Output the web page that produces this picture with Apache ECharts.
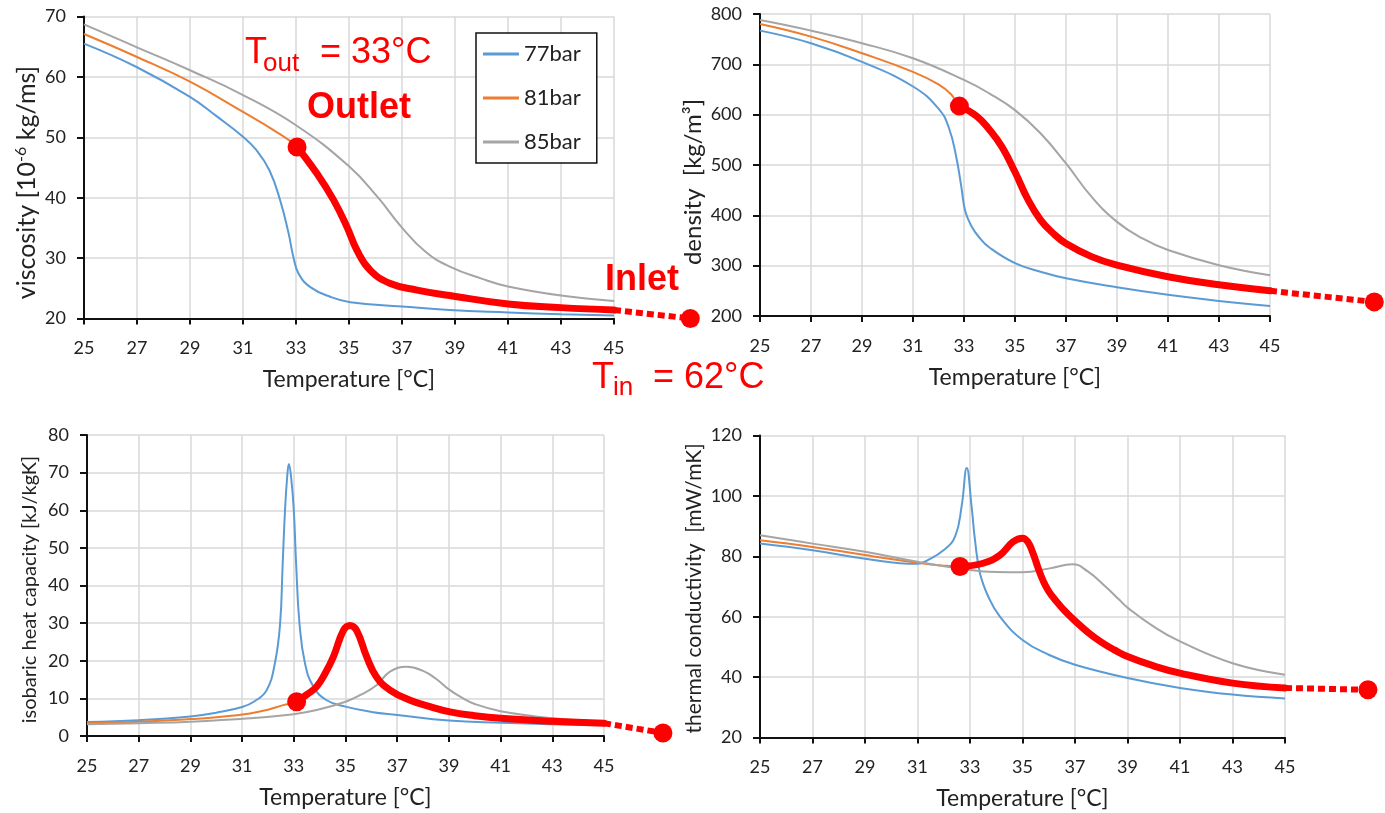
<!DOCTYPE html>
<html>
<head>
<meta charset="utf-8">
<script src="https://cdn.jsdelivr.net/npm/echarts@6/dist/echarts.min.js"></script>
<style>
  html, body { margin: 0; padding: 0; background: #ffffff; }
  #chart { width: 1385px; height: 813px; }
</style>
</head>
<body>
<div id="chart"></div>
<script>
// ---- tick labels ----
const tempTicks = [25, 27, 29, 31, 33, 35, 37, 39, 41, 43, 45];
const pressureNames = ['77bar', '81bar', '85bar'];

// ---- viscosity [1e-6 kg/ms] vs temperature [°C] ----
const visc77 = [[25,65.5],[27,61.6],[29,56.7],[30,53.5],[31,50.1],[31.5,47.9],[32,44.5],[32.4,39.6],[32.72,34.1],[32.9,30.2],[33.1,27.4],[33.54,25.2],[34.29,23.6],[35.05,22.7],[37,22.0],[38.8,21.4],[41,21.0],[43,20.7],[45,20.5]];
const visc81 = [[25,67.1],[27,63.3],[29,59.2],[31,54.2],[32.15,51.2],[33.04,48.4],[33.79,44.0],[34.42,39.6],[34.92,35.2],[35.3,31.3],[35.8,28.0],[36.56,25.8],[37.57,24.7],[38.8,23.8],[41,22.4],[43,21.8],[45,21.4]];
const visc85 = [[25,68.7],[27,64.9],[29,61.1],[31,57.0],[33,52.0],[35,45.2],[36.1,40.0],[36.95,35.3],[37.9,31.0],[38.8,28.6],[40,26.6],[41,25.3],[43,23.8],[45,22.9]];

// ---- density [kg/m3] ----
const dens77 = [[25,767],[27,742],[29,705],[31,656],[32,612],[32.4,575],[32.7,515],[32.9,455],[33.05,408],[33.3,378],[33.6,356],[34,336],[35,305],[36,288],[37,275],[39,257],[41,242],[43,230],[45,220]];
const dens81 = [[25,780],[27,755],[29,722],[31,685],[32,660],[32.5,640],[32.82,617],[33.5,597],[34,570],[34.5,535],[35,486],[35.5,432],[36,391],[36.5,364],[37,344],[38,318],[39,301],[41,278],[43,262],[45,250]];
const dens85 = [[25,788],[27,767],[29,742],[31,712],[33,669],[34,642],[35,609],[36,563],[37,503],[38,437],[39,387],[40,354],[41,331],[43,301],[45,281]];

// ---- isobaric heat capacity [kJ/kgK] ----
const cp77 = [[25,3.7],[27,4.2],[29,5.2],[30,6.2],[31,7.7],[31.5,9.3],[31.95,12.2],[32.27,19.4],[32.47,29.9],[32.57,45.8],[32.66,60.0],[32.74,68.5],[32.81,72.3],[32.9,68.5],[33.0,60.0],[33.09,45.8],[33.22,29.9],[33.43,19.4],[33.76,13.1],[34.27,9.5],[35,7.8],[36,6.4],[37,5.6],[39,4.1],[41,3.5],[43,3.1],[45,2.9]];
const cp81 = [[25,3.4],[27,3.8],[29,4.5],[30,5.0],[31.3,6.0],[32,7.0],[32.59,8.2],[33.11,9.1],[33.5,11.0],[33.88,13.1],[34.2,16.5],[34.53,21.0],[34.92,28.1],[35.17,29.4],[35.43,28.1],[35.82,21.0],[36.2,15.7],[36.72,12.2],[37.5,9.5],[38.27,7.8],[39.04,6.4],[40,5.4],[41,4.7],[43,3.9],[45,3.4]];
const cp85 = [[25,3.1],[27,3.4],[29,3.8],[31.3,4.7],[33,5.8],[33.88,6.9],[35,9.1],[35.6,11.0],[36.2,13.5],[36.72,17.1],[37.37,18.4],[38,17.3],[38.5,15.2],[39,12.4],[39.5,10.2],[40,8.5],[41,6.6],[43,4.7],[45,3.8]];

// ---- thermal conductivity [mW/mK] ----
const tc77 = [[25,84.2],[27,82.0],[29,79.2],[31,77.5],[31.36,78.6],[31.99,82.0],[32.43,86.5],[32.68,96.5],[32.875,109.2],[33.06,96.5],[33.19,85.4],[33.38,74.4],[33.7,66.6],[34.14,60.0],[35,52.3],[36,47.4],[37,44.1],[39,39.7],[41,36.4],[43,34.2],[45,32.9]];
const tc81 = [[25,85.3],[27,83.1],[29,80.4],[31,77.9],[32,76.9],[32.62,76.6],[33.5,77.7],[34.14,80.4],[34.64,84.8],[35.0,86.0],[35.2,84.8],[35.4,81.0],[35.6,76.0],[35.8,71.6],[36.0,68.4],[36.3,65.0],[36.6,62.0],[37,58.6],[37.5,54.8],[38,51.6],[38.5,49.0],[39,46.8],[40,43.7],[41,41.3],[43,38.0],[45,36.4]];
const tc85 = [[25,87.0],[27,84.2],[29,81.5],[31,78.2],[33,75.5],[34,74.8],[35,74.7],[36.04,76.0],[36.9,77.4],[37.5,74.9],[38.17,69.9],[38.7,65.5],[39,63.0],[40,56.7],[41,51.8],[43,44.6],[45,40.8]];

// operating path along the 81 bar curve: outlet temperature and inlet point
const outletTemp = [33.04, 32.82, 33.11, 32.62];
const inletPoint = [[47.88, 20], [49.09, 228], [47.28, 0.8], [48.16, 35.8]];

// axis ranges
const yMin = [20, 200, 0, 20];
const yMax = [70, 800, 80, 120];
const yStep = [10, 100, 10, 20];

const panels = [
  [visc77, visc81, visc85],
  [dens77, dens81, dens85],
  [cp77, cp81, cp85],
  [tc77, tc81, tc85]
];

const lineColors = ['#5B9BD5', '#ED7D31', '#A5A5A5'];
const pathRed = '#FF0000';
const labelFont = 'Lato, "Liberation Sans", sans-serif';
const noteFont = '"Liberation Sans", Arial, sans-serif';
const curveSmooth = 0.45;

const gridBoxes = [
  { left: 84,  top: 16.5,  width: 530, height: 302 },
  { left: 760, top: 14,    width: 510, height: 302 },
  { left: 87,  top: 435,   width: 517, height: 301 },
  { left: 760, top: 435.5, width: 525, height: 302 }
];

const yNames = [
  '{n|viscosity [10}{s|-6}{n| kg/ms]}',
  '{n|density  [kg/m³]}',
  '{n|isobaric heat capacity [kJ/kgK]}',
  '{n|thermal conductivity  [mW/mK]}'
];
const yNameSize = [25, 24, 20, 21];
const yNamePad = [[0, 30, 0, 0], [0, 34, 0, 0], [0, 8, 0, 0], [0, 4, 0, 0]];
const yNameGap = [44, 54, 46, 54];

const xAxes = [], yAxes = [], series = [];

panels.forEach(function (curves, i) {
  xAxes.push({
    gridIndex: i,
    type: 'value',
    min: 25,
    max: 45,
    name: 'Temperature [°C]',
    nameLocation: 'middle',
    nameGap: 50,
    nameTextStyle: { fontFamily: labelFont, fontSize: 23, color: '#222' },
    axisLine: { show: true, lineStyle: { color: '#111', width: 2 } },
    axisTick: { show: true, length: 6, customValues: tempTicks, lineStyle: { color: '#111', width: 2 } },
    axisLabel: { customValues: tempTicks, margin: 21, fontFamily: labelFont, fontSize: 18, color: '#222' },
    splitLine: { show: true, lineStyle: { color: '#D9D9D9', width: 1.5 } }
  });
  const fs = yNameSize[i];
  yAxes.push({
    gridIndex: i,
    type: 'value',
    min: yMin[i],
    max: yMax[i],
    interval: yStep[i],
    name: yNames[i],
    nameLocation: 'middle',
    nameRotate: 90,
    nameGap: yNameGap[i],
    nameTextStyle: {
      padding: yNamePad[i],
      rich: {
        n: { fontFamily: labelFont, fontSize: fs, color: '#222', lineHeight: fs + 2 },
        s: { fontFamily: labelFont, fontSize: Math.round(fs * 0.62), color: '#222', lineHeight: fs + 2, verticalAlign: 'top' }
      }
    },
    axisLine: { show: true, lineStyle: { color: '#111', width: 2 } },
    axisTick: { show: true, length: 7, lineStyle: { color: '#111', width: 2 } },
    axisLabel: { margin: 18, fontFamily: labelFont, fontSize: 18, color: '#222' },
    splitLine: { show: true, lineStyle: { color: '#D9D9D9', width: 1.5 } }
  });

  curves.forEach(function (pts, k) {
    series.push({
      name: pressureNames[k],
      type: 'line',
      xAxisIndex: i,
      yAxisIndex: i,
      data: pts,
      symbol: 'none',
      smooth: curveSmooth,
      lineStyle: { color: lineColors[k], width: 2 },
      itemStyle: { color: lineColors[k] },
      z: 3
    });
  });

  // thick path from outlet to the end of the range along the 81 bar curve
  const path = curves[1].filter(function (p) { return p[0] >= outletTemp[i]; });
  series.push({
    name: 'path' + i,
    type: 'line',
    xAxisIndex: i,
    yAxisIndex: i,
    data: path,
    symbol: 'none',
    smooth: curveSmooth,
    lineStyle: { color: pathRed, width: 7, cap: 'round' },
    z: 5
  });

  // dotted continuation towards the inlet point (outside the plot area)
  const last = path[path.length - 1];
  series.push({
    name: 'inletLink' + i,
    type: 'lines',
    coordinateSystem: 'cartesian2d',
    xAxisIndex: i,
    yAxisIndex: i,
    clip: false,
    data: [{ coords: [last, inletPoint[i]] }],
    lineStyle: { color: pathRed, width: 6, type: [7, 4], opacity: 1, curveness: 0 },
    z: 5
  });

  // outlet and inlet dots
  series.push({
    name: 'ends' + i,
    type: 'scatter',
    xAxisIndex: i,
    yAxisIndex: i,
    data: [path[0], inletPoint[i]],
    symbol: 'circle',
    symbolSize: 19,
    clip: false,
    itemStyle: { color: pathRed, opacity: 1 },
    z: 6
  });
});

function note(text, x, y, size, bold) {
  return {
    type: 'text',
    x: x,
    y: y,
    z: 20,
    style: {
      text: text,
      fill: pathRed,
      font: (bold ? 'bold ' : '') + size + 'px ' + noteFont,
      textAlign: 'left',
      textVerticalAlign: 'middle'
    }
  };
}

const option = {
  backgroundColor: '#ffffff',
  animation: false,
  grid: gridBoxes.map(function (g) { return Object.assign({ containLabel: false }, g); }),
  xAxis: xAxes,
  yAxis: yAxes,
  legend: {
    data: pressureNames,
    left: 476,
    top: 33,
    orient: 'vertical',
    icon: 'rect',
    itemWidth: 36,
    itemHeight: 3,
    itemGap: 20,
    padding: [9, 16, 9, 7],
    borderColor: '#111',
    borderWidth: 1.5,
    backgroundColor: '#ffffff',
    textStyle: { fontFamily: labelFont, fontSize: 22, color: '#222', lineHeight: 24 },
    z: 10
  },
  series: series,
  graphic: [
    note('T', 245, 53, 36, false),
    note('out', 263, 64, 26, false),
    note('= 33°C', 320, 53, 36, false),
    note('Outlet', 307, 108, 36, true),
    note('Inlet', 605, 280, 36, true),
    note('T', 592, 378, 36, false),
    note('in', 613, 388, 26, false),
    note('= 62°C', 653, 378, 36, false)
  ]
};

const chart = echarts.init(document.getElementById('chart'), null, { renderer: 'canvas' });
chart.setOption(option);
</script>
</body>
</html>
